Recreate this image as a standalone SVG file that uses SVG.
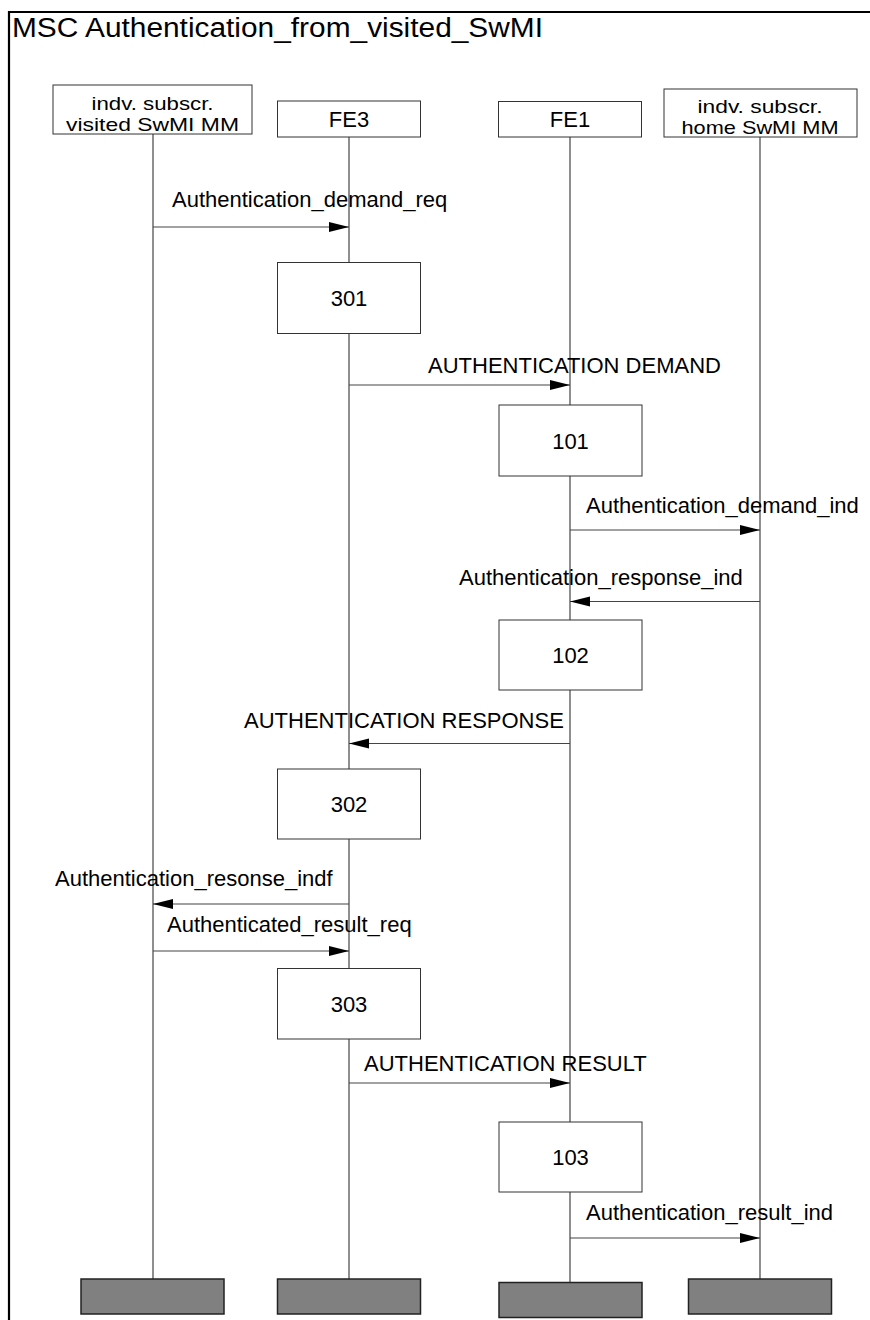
<svg xmlns="http://www.w3.org/2000/svg" width="870" height="1320" viewBox="0 0 870 1320">
<style>
  text { font-family: "Liberation Sans", Arial, sans-serif; fill: #000; }
  .t { font-size: 22px; }
  .s { font-size: 19px; }
  .c { text-anchor: middle; }
  .inst { fill: #fff; stroke: #333; stroke-width: 1; }
  .proc { fill: #fff; stroke: #333; stroke-width: 1; }
  .end { fill: #808080; stroke: #222; stroke-width: 1.5; }
  .life { stroke: #444; stroke-width: 1.2; fill: none; }
  .msg { stroke: #444; stroke-width: 1.2; fill: none; marker-end: url(#arr); }
</style>
<defs>
  <marker id="arr" markerUnits="userSpaceOnUse" markerWidth="22" markerHeight="12" refX="20" refY="5" orient="auto">
    <path d="M0,0 L20,5 L0,10 Z" fill="#000"/>
  </marker>
</defs>
<rect width="870" height="1320" fill="#fff"/>
<g id="frame">
  <path d="M9,1320 V12 H870" fill="none" stroke="#000" stroke-width="2.2"/>
  <text x="12" y="37" font-size="27" textLength="531" lengthAdjust="spacingAndGlyphs">MSC Authentication_from_visited_SwMI</text>
</g>
<g id="lifelines">
  <line class="life" x1="153" y1="134" x2="153" y2="1279"/>
  <line class="life" x1="349" y1="137" x2="349" y2="1279"/>
  <line class="life" x1="570" y1="137" x2="570" y2="1282"/>
  <line class="life" x1="760" y1="137" x2="760" y2="1279"/>
</g>
<g id="connectors">
  <line class="msg" x1="153" y1="227" x2="349" y2="227"/>
  <line class="msg" x1="349" y1="385" x2="570" y2="385"/>
  <line class="msg" x1="570" y1="530" x2="760" y2="530"/>
  <line class="msg" x1="760" y1="601.5" x2="570" y2="601.5"/>
  <line class="msg" x1="570" y1="743.5" x2="349" y2="743.5"/>
  <line class="msg" x1="349" y1="904" x2="153" y2="904"/>
  <line class="msg" x1="153" y1="951" x2="349" y2="951"/>
  <line class="msg" x1="349" y1="1083" x2="570" y2="1083"/>
  <line class="msg" x1="570" y1="1238" x2="760" y2="1238"/>
</g>
<g id="labels">
  <text class="t" x="172" y="207">Authentication_demand_req</text>
  <text class="t" x="428" y="373">AUTHENTICATION DEMAND</text>
  <text class="t" x="586" y="513">Authentication_demand_ind</text>
  <text class="t" x="459" y="585">Authentication_response_ind</text>
  <text class="t" x="244" y="728">AUTHENTICATION RESPONSE</text>
  <text class="t" x="55" y="886">Authentication_resonse_indf</text>
  <text class="t" x="167" y="932">Authenticated_result_req</text>
  <text class="t" x="364" y="1071">AUTHENTICATION RESULT</text>
  <text class="t" x="586" y="1220">Authentication_result_ind</text>
</g>
<g id="inst-visited">
  <rect class="inst" x="53" y="85" width="199" height="49"/>
  <text class="s c" x="152.5" y="110" textLength="122" lengthAdjust="spacingAndGlyphs">indv. subscr.</text>
  <text class="s c" x="152.5" y="131" textLength="173" lengthAdjust="spacingAndGlyphs">visited SwMI MM</text>
</g>
<g id="inst-fe3">
  <rect class="inst" x="277.5" y="101" width="143" height="36"/>
  <text class="t c" x="349" y="126.5">FE3</text>
</g>
<g id="inst-fe1">
  <rect class="inst" x="498.5" y="101.5" width="143" height="35.5"/>
  <text class="t c" x="570" y="126.5">FE1</text>
</g>
<g id="inst-home">
  <rect class="inst" x="664" y="89" width="193" height="48"/>
  <text class="s c" x="760" y="113" textLength="125" lengthAdjust="spacingAndGlyphs">indv. subscr.</text>
  <text class="s c" x="760" y="134" textLength="157" lengthAdjust="spacingAndGlyphs">home SwMI MM</text>
</g>
<g id="p301">
  <rect class="proc" x="277.5" y="262.5" width="143" height="71"/>
  <text class="t c" x="349" y="306">301</text>
</g>
<g id="p101">
  <rect class="proc" x="499" y="405" width="143" height="71"/>
  <text class="t c" x="570.5" y="448.5">101</text>
</g>
<g id="p102">
  <rect class="proc" x="499" y="620" width="143" height="70"/>
  <text class="t c" x="570.5" y="663">102</text>
</g>
<g id="p302">
  <rect class="proc" x="277.5" y="769" width="143" height="70"/>
  <text class="t c" x="349" y="812">302</text>
</g>
<g id="p303">
  <rect class="proc" x="277.5" y="968.5" width="143" height="70.5"/>
  <text class="t c" x="349" y="1012">303</text>
</g>
<g id="p103">
  <rect class="proc" x="499" y="1122" width="143" height="70"/>
  <text class="t c" x="570.5" y="1165">103</text>
</g>
<g id="end-visited"><rect class="end" x="81" y="1279" width="143" height="35"/></g>
<g id="end-fe3"><rect class="end" x="277.5" y="1279" width="143" height="35"/></g>
<g id="end-fe1"><rect class="end" x="499" y="1282.5" width="143" height="35"/></g>
<g id="end-home"><rect class="end" x="688.5" y="1279" width="143" height="35"/></g>
</svg>
